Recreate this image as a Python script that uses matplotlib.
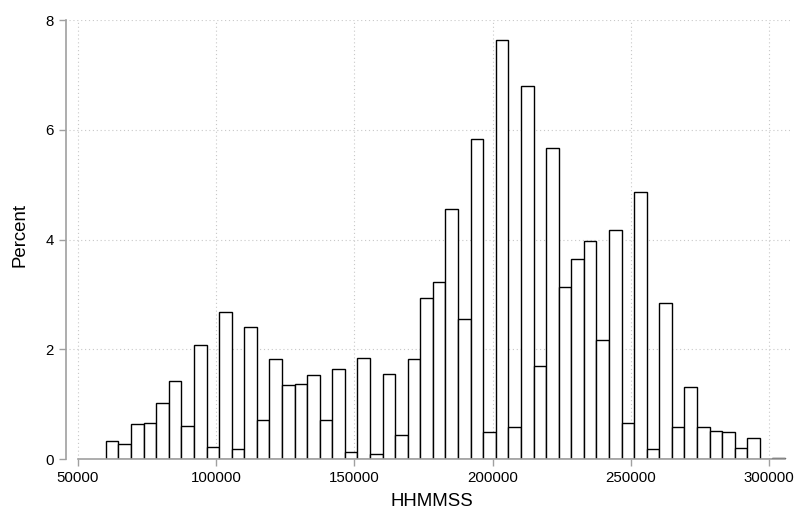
import numpy as np
import matplotlib
matplotlib.use("Agg")
import matplotlib.pyplot as plt

# histogram of HHMMSS, 54 bins, heights in percent
bin_start = 60200
bin_width = 4546
percent = [
    0.33, 0.28, 0.65, 0.67, 1.02, 1.43, 0.61, 2.09, 0.22, 2.69,
    0.18, 2.41, 0.71, 1.82, 1.35, 1.38, 1.54, 0.72, 1.65, 0.14,
    1.85, 0.10, 1.55, 0.44, 1.83, 2.94, 3.22, 4.55, 2.55, 5.84,
    0.50, 7.63, 0.58, 6.79, 1.69, 5.67, 3.14, 3.64, 3.97, 2.18,
    4.18, 0.67, 4.86, 0.19, 2.84, 0.58, 1.32, 0.59, 0.52, 0.50,
    0.21, 0.38, 0.005, 0.02,
]
x_ticks = [50000, 100000, 150000, 200000, 250000, 300000]
y_ticks = [0, 2, 4, 6, 8]

plt.rcParams["font.family"] = ["Liberation Sans", "DejaVu Sans"]

W, H = 795, 512
fig = plt.figure(figsize=(W / 100, H / 100), dpi=100)
fig.patch.set_facecolor("white")

left_px, right_px, top_px, bottom_px = 65.7, 790, 20, 459.3
ax = fig.add_axes([left_px / W, 1 - bottom_px / H,
                   (right_px - left_px) / W, (bottom_px - top_px) / H])

# pixel scale: 50000 -> 77.7px, 300000 -> 769.3px
scale = (769.3 - 77.7) / 250000
ax.set_xlim(50000 - (77.7 - left_px) / scale, 50000 + (right_px - 77.7) / scale)
ax.set_ylim(0, 8)

lefts = bin_start + bin_width * np.arange(len(percent))
ax.bar(lefts, percent, width=bin_width, align="edge",
       facecolor="white", edgecolor="black", linewidth=1.0, zorder=3)

grid_kw = dict(color="#c8c8c8", linestyle=(0, (1, 2.5)), linewidth=0.8, zorder=1)
for v in x_ticks:
    ax.axvline(v, **grid_kw)
for v in y_ticks[1:]:
    ax.axhline(v, xmin=(69 - left_px) / (right_px - left_px), **grid_kw)

axis_col = "#a0a0a0"
for s in ["top", "right"]:
    ax.spines[s].set_visible(False)
ax.spines["left"].set_color(axis_col)
ax.spines["bottom"].set_color(axis_col)
ax.spines["left"].set_linewidth(1.2)
ax.spines["bottom"].set_linewidth(1.2)
ax.spines["bottom"].set_bounds(50000, bin_start + bin_width * len(percent))
ax.spines["bottom"].set_zorder(4)

ax.set_xticks(x_ticks)
ax.set_xticklabels([str(v) for v in x_ticks])
ax.set_yticks(y_ticks)
ax.set_yticklabels([str(v) for v in y_ticks])
ax.tick_params(axis="both", direction="out", length=5, width=1.0,
               color=axis_col, labelsize=10.8, labelcolor="black", pad=3.6)

fig.text(19.5 / W, 1 - 235 / H, "Percent", rotation=90, fontsize=13.4,
         ha="center", va="center")
fig.text(432 / W, 1 - 501 / H, "HHMMSS", fontsize=13.4,
         ha="center", va="center")

fig.savefig("out.png", dpi=100, facecolor="white")
